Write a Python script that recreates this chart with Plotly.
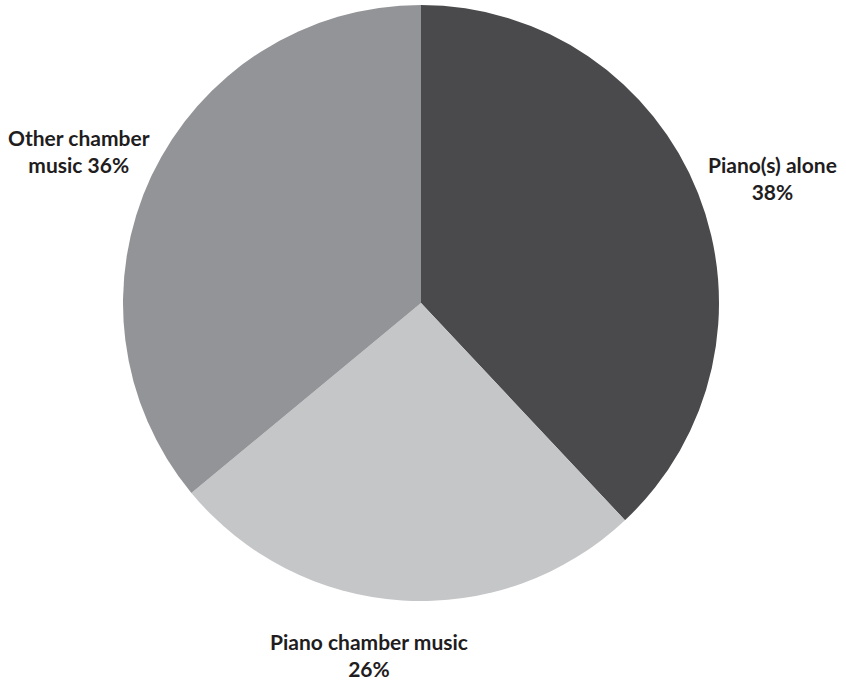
import plotly.graph_objects as go

# Share of repertoire by category
categories = ["Piano(s) alone", "Piano chamber music", "Other chamber music"]
shares = [38, 26, 36]
label_lines = [["Piano(s) alone", ""], ["Piano chamber music", ""], ["Other chamber", "music "]]
slice_colors = ["#4a4a4c", "#c5c6c8", "#939497"]

W, H = 846, 684

fig = go.Figure(
    go.Pie(
        labels=categories,
        values=shares,
        sort=False,
        direction="clockwise",
        rotation=0,
        marker=dict(colors=slice_colors, line=dict(width=0)),
        textinfo="none",
        hoverinfo="label+percent",
        showlegend=False,
        domain=dict(x=[123 / W, 719 / W], y=[1 - 601 / H, 1 - 5 / H]),
    )
)

# Outside labels: category name and its percentage
label_pos = [(772, 178), (369, 655), (79, 151)]
for (line1, line2), share, (px, py) in zip(label_lines, shares, label_pos):
    if line2:
        text = f"{line1}<br>{line2}{share}%"
    else:
        text = f"{line1}<br>{share}%"
    fig.add_annotation(
        x=px / W, y=1 - py / H, xref="paper", yref="paper",
        text=text, showarrow=False, align="center",
        xanchor="center", yanchor="middle",
        font=dict(family="Lato", size=21, color="#1f1d1e", weight="bold"),
    )

fig.update_layout(
    width=W, height=H,
    margin=dict(l=0, r=0, t=0, b=0),
    paper_bgcolor="white", plot_bgcolor="white",
)

fig.write_html("out.html")
